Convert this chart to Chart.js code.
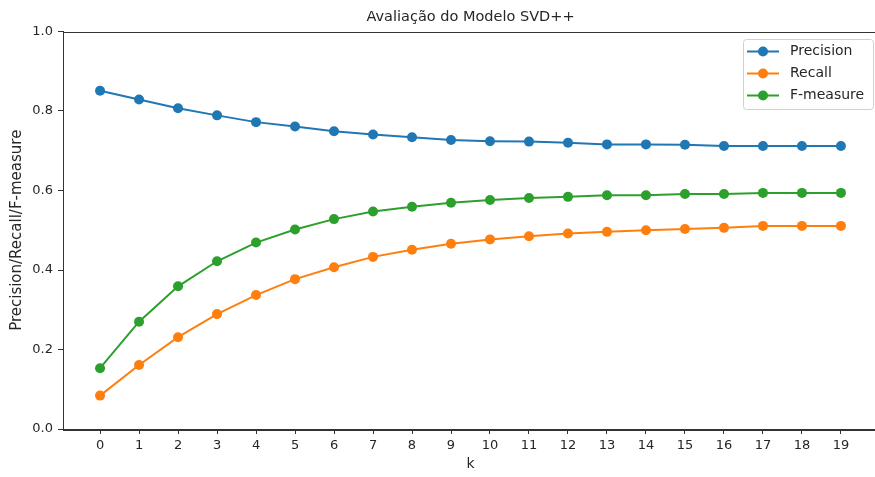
<!DOCTYPE html>
<html>
<head>
<meta charset="utf-8">
<script src="https://cdn.jsdelivr.net/npm/chart.js@4"></script>
<style>
  html, body { margin: 0; padding: 0; background: #fff; overflow: hidden; }
  #wrap { width: 883px; height: 477px; }
</style>
</head>
<body>
<div id="wrap"><canvas id="myChart" width="883" height="477"></canvas></div>
<script>
const kValues = [0,1,2,3,4,5,6,7,8,9,10,11,12,13,14,15,16,17,18,19];
const precision = [0.851,0.829,0.807,0.789,0.772,0.761,0.749,0.741,0.734,0.727,
                   0.724,0.723,0.720,0.716,0.716,0.715,0.712,0.712,0.712,0.712];
const recall    = [0.084,0.161,0.231,0.289,0.337,0.377,0.407,0.433,0.451,0.466,
                   0.477,0.485,0.492,0.496,0.500,0.503,0.506,0.511,0.511,0.511];
const fmeasure  = [0.153,0.270,0.359,0.422,0.469,0.502,0.528,0.547,0.559,0.569,
                   0.576,0.581,0.584,0.588,0.588,0.591,0.591,0.594,0.594,0.594];
const yTicks = [0, 0.2, 0.4, 0.6, 0.8, 1.0];

const FONT = 'DejaVu Sans';
const TXT = '#262626';
const AX = '#333333';

function series(label, values, color){
	return {
		label: label,
		data: values.map((v, i) => ({x: kValues[i], y: v})),
		borderColor: color,
		backgroundColor: color,
		borderWidth: 2,
		pointRadius: 5,
		pointHoverRadius: 5,
		pointBorderWidth: 0,
		tension: 0
	};
}

const datasets = [
	series('Precision', precision, '#1f77b4'),
	series('Recall', recall, '#ff7f0e'),
	series('F-measure', fmeasure, '#2ca02c')
];

// frame around the plot + legend in the upper right, matplotlib style
const framePlugin = {
	id: 'frame',
	afterDraw(chart){
		const {ctx, chartArea: a} = chart;
		ctx.save();
		ctx.strokeStyle = AX;
		ctx.lineWidth = 1;
		ctx.strokeRect(Math.round(a.left) + 0.5, Math.round(a.top) + 0.5,
			Math.round(a.right - a.left), Math.round(a.bottom - a.top));

		// legend box
		const w = 130, h = 70;
		const x = 743, y = a.top + 7.5;
		ctx.fillStyle = 'rgba(255,255,255,0.8)';
		ctx.strokeStyle = '#d0d0d0';
		ctx.beginPath();
		ctx.roundRect(x + 0.5, y + 0.5, w, h, 3);
		ctx.fill();
		ctx.stroke();
		ctx.font = '14px ' + FONT;
		ctx.textBaseline = 'middle';
		chart.data.datasets.forEach((ds, i) => {
			const cy = y + 12.5 + i * 22;
			ctx.strokeStyle = ds.borderColor;
			ctx.lineWidth = 2;
			ctx.beginPath();
			ctx.moveTo(x + 4, cy);
			ctx.lineTo(x + 36, cy);
			ctx.stroke();
			ctx.fillStyle = ds.borderColor;
			ctx.beginPath();
			ctx.arc(x + 20, cy, 5, 0, Math.PI * 2);
			ctx.fill();
			ctx.fillStyle = TXT;
			ctx.fillText(ds.label, x + 47, cy);
		});
		ctx.restore();
	}
};

let config = {
	type: 'line',
	data: { datasets: datasets },
	options: {
		animation: false,
		responsive: false,
		maintainAspectRatio: false,
		devicePixelRatio: 1,
		layout: { padding: { left: 1, right: 2, top: 0, bottom: 0 } },
		plugins: {
			legend: { display: false },
			tooltip: { enabled: false },
			title: {
				display: true,
				fullSize: false,
				text: 'Avaliação do Modelo SVD++',
				color: TXT,
				font: { family: FONT, size: 14.5, weight: 'normal' },
				padding: { top: 8.3, bottom: 5.8 }
			}
		},
		scales: {
			x: {
				type: 'linear',
				min: -0.95,
				max: 19.95,
				afterBuildTicks: axis => { axis.ticks = kValues.map(v => ({value: v})); },
				afterFit: s => { s.height = 48; },
				grid: { drawOnChartArea: false, drawTicks: true, tickLength: 5, color: AX },
				border: { display: true, color: AX },
				ticks: { color: TXT, font: { family: FONT, size: 13 }, padding: 4, maxRotation: 0, autoSkip: false },
				title: {
					display: true, text: 'k', color: TXT,
					font: { family: FONT, size: 14 },
					padding: { top: 0, bottom: 4 }
				}
			},
			y: {
				min: 0,
				max: 1,
				afterBuildTicks: axis => { axis.ticks = yTicks.map(v => ({value: v})); },
				afterFit: s => { s.width = 62; },
				grid: { drawOnChartArea: false, drawTicks: true, tickLength: 5, color: AX },
				border: { display: true, color: AX },
				ticks: { color: TXT, font: { family: FONT, size: 13 }, padding: 5,
					callback: v => v.toFixed(1) },
				title: {
					display: true, text: 'Precision/Recall/F-measure', color: TXT,
					font: { family: FONT, size: 15 },
					padding: { top: 7, bottom: 0 }
				}
			}
		}
	},
	plugins: [framePlugin]
};

const myChart = new Chart(document.getElementById('myChart'), config);
</script>
</body>
</html>
